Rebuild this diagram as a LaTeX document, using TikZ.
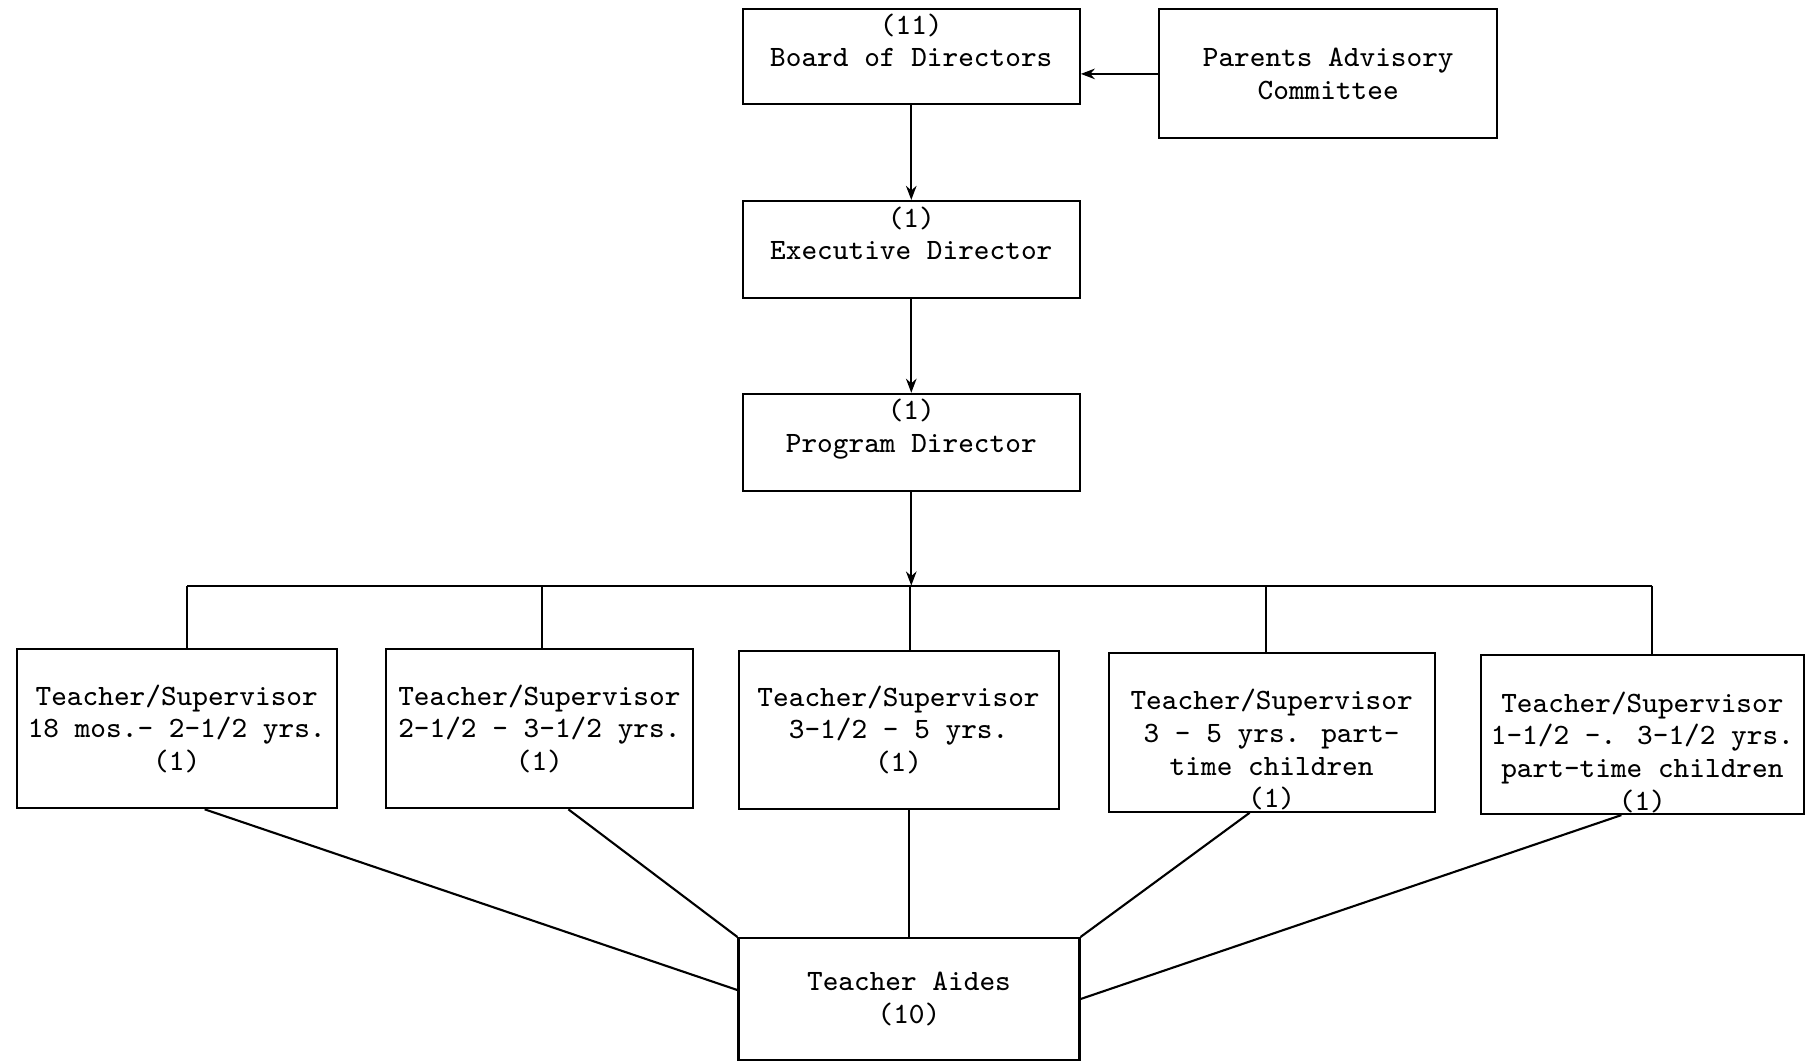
\documentclass[tikz,border=0pt]{standalone}
\usepackage{tikz}
\usetikzlibrary{arrows.meta}
\tikzset{orgbox/.style={draw, line width=0.6pt, align=center, inner sep=0pt,
         font=\ttfamily\fontsize{8.4}{9.3}\selectfont},
         link/.style={line width=0.6pt},
         tip/.style={line width=0.6pt, -{Stealth[length=4pt,width=3pt]}}}

\begin{document}
\begin{tikzpicture}[x=0.01155cm,y=-0.01155cm]
\useasboundingbox (0,0) rectangle (1568,920);

% top of the chart
\node [orgbox, minimum width=3.37cm, minimum height=0.95cm] (board) at (789,49) {(11)\\Board of Directors\\~};
\node [orgbox, minimum width=3.38cm, minimum height=1.29cm] (parents) at (1150,64) {Parents Advisory\\Committee};
\node [orgbox, minimum width=3.37cm, minimum height=0.97cm] (exec) at (789,216) {(1)\\Executive Director\\~};
\node [orgbox, minimum width=3.37cm, minimum height=0.97cm] (prog) at (789,383) {(1)\\Program Director\\~};

\draw [tip] (parents.west) -- (parents.west -| board.east);
\draw [tip] (board.south) -- (exec.north);
\draw [tip] (exec.south) -- (prog.north);

% teachers
\node [orgbox, minimum width=3.20cm, minimum height=1.59cm] (t1) at (153,631) {Teacher/Supervisor\\18 mos.- 2-1/2 yrs.\\(1)};
\node [orgbox, minimum width=3.07cm, minimum height=1.59cm] (t2) at (467,631) {Teacher/Supervisor\\2-1/2 - 3-1/2 yrs.\\(1)};
\node [orgbox, minimum width=3.20cm, minimum height=1.58cm] (t3) at (778,632) {Teacher/Supervisor\\3-1/2 - 5 yrs.\\(1)};
\node [orgbox, minimum width=3.26cm, minimum height=1.59cm] (t4) at (1101,634) {\strut\\Teacher/Supervisor\\3 - 5 yrs. part-\\time children\\(1)};
\node [orgbox, minimum width=3.23cm, minimum height=1.59cm] (t5) at (1422,636) {\strut\\Teacher/Supervisor\\1-1/2 -. 3-1/2 yrs.\\part-time children\\(1)};

\coordinate (bus) at (788,507);
\coordinate (b1) at (162,507);
\coordinate (b2) at (469,507);
\coordinate (b4) at (1096,507);
\coordinate (b5) at (1430,507);
\draw [tip] (prog.south) -- (prog.south |- bus);
\draw [link] (b1) -- (b5);
\draw [link] (b1) -- (b1 |- t1.north);
\draw [link] (b2) -- (b2 |- t2.north);
\draw [link] (bus) -- (bus |- t3.north);
\draw [link] (b4) -- (b4 |- t4.north);
\draw [link] (b5) -- (b5 |- t5.north);

% aides
\node [orgbox, minimum width=3.41cm, minimum height=1.22cm] (aides) at (787,865) {Teacher Aides\\(10)};

\draw [link] ([xshift=0.28cm]t1.south) -- ([yshift=0.09cm]aides.west);
\draw [link] ([xshift=0.29cm]t2.south) -- (aides.north west);
\draw [link] (aides.north |- t3.south) -- (aides.north);
\draw [link] ([xshift=-0.22cm]t4.south) -- (aides.north east);
\draw [link] ([xshift=-0.21cm]t5.south) -- (aides.east);

\end{tikzpicture}
\end{document}
